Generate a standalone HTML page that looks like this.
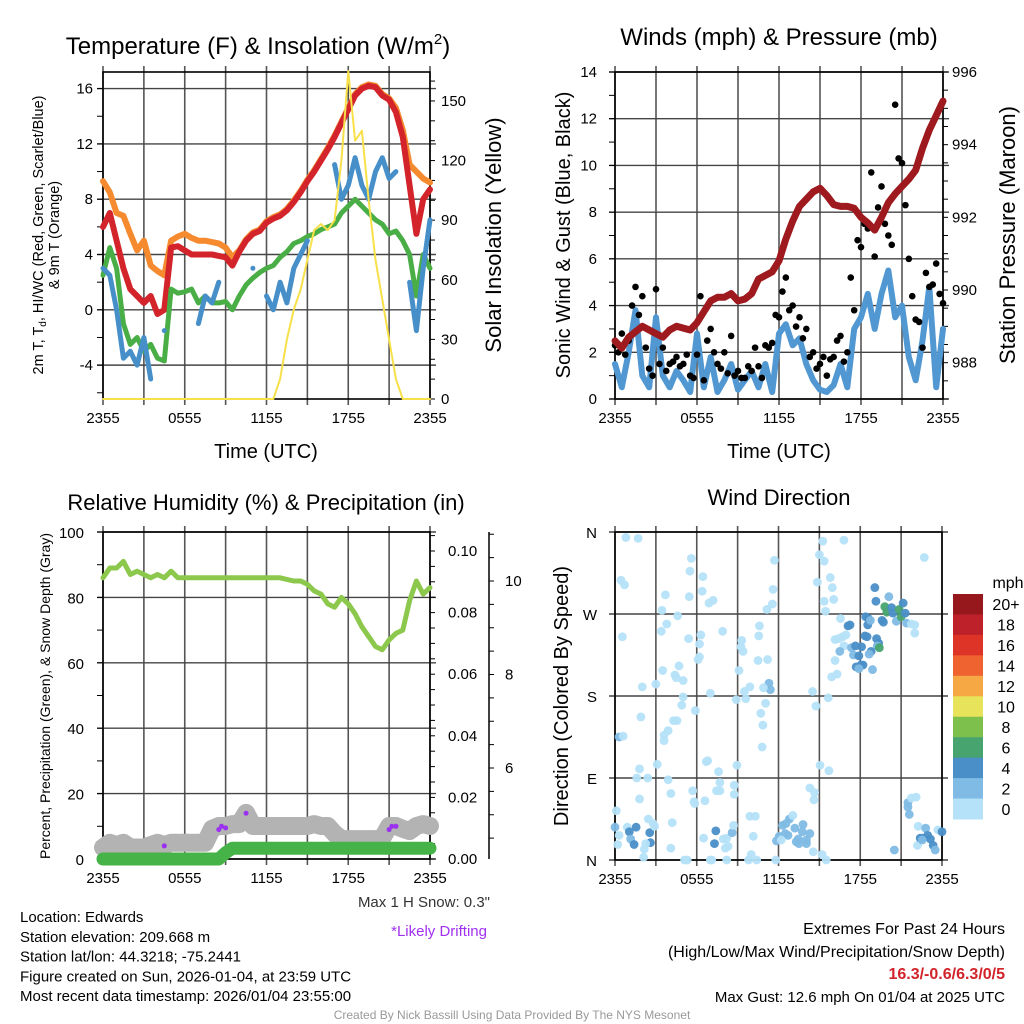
<!DOCTYPE html>
<html><head><meta charset="utf-8">
<style>
html,body{margin:0;padding:0;background:#fff;}
svg{display:block;font-family:"Liberation Sans",sans-serif;}
</style></head>
<body>
<svg id="chart" width="1024" height="1024" viewBox="0 0 1024 1024" xmlns="http://www.w3.org/2000/svg"></svg>
<script>
// ---------- data (30-minute samples, hours 0..24) ----------
const xTickLabels = ["2355","0555","1155","1755","2355"];
const temp2m = [6,7,5,3,1.5,1,0.5,1,-0.3,0,4.5,4.6,4.3,4,4,4,4,3.9,3.8,3.2,4.2,5,5.5,5.7,6.3,6.6,6.8,7.2,7.8,8.5,9.3,10,10.8,11.6,12.5,13.5,14.5,15.5,16,16.2,16.1,15.5,15.2,14.3,12.5,9,5.5,8,8.7];
const temp9m = [9.3,8.5,7,6.8,5.5,4.3,5,3.2,2.8,2.5,5,5.3,5.5,5.2,5,5,4.9,4.8,4.5,3.8,4.3,5.1,5.6,5.8,6.4,6.7,6.9,7.3,7.9,8.6,9.4,10.1,10.9,11.7,12.6,13.6,14.6,15.6,16.1,16.3,16.2,15.6,15.3,14.6,13,10.5,10,9.5,9.2];
const dewpt = [2.5,4.5,3,-1,-2.5,-2,-3,-2.5,-3.5,-3.7,1.5,1.2,1.3,1.5,0.5,1,0.5,0.5,0.6,0,1,1.8,2.3,2.7,3,3.2,3.8,4.2,4.8,5,5.3,5.5,5.8,6,6.2,7,7.5,8,7.5,7,6.5,6.2,5.5,5.7,5,4,1,4,3];
const windChill = [3,2.5,0,-3.5,-3,-4,-2,-5,null,-1.5,null,null,null,null,-1,1,0.5,2,null,null,null,null,3,null,1,0,2,0.5,3,4,5,null,null,null,10.5,8,9,11,9,8,10,11,9.5,10,null,2,-1.5,3,6.5];
const solar = [0,0,0,0,0,0,0,0,0,0,0,0,0,0,0,0,0,0,0,0,0,0,0,0,0,0,10,30,45,55,70,85,88,85,90,120,165,130,135,100,70,50,30,10,0,0,0,0,0];
const windSpd = [1.5,0.5,2,3.8,1,0.5,3.5,1,0.5,1.2,0.8,0.3,2.8,0.5,1.8,0.3,0.8,1.5,0.4,0.8,1.2,0.5,1.5,0.3,2.8,3.2,2.3,2.6,1.5,0.8,0.4,0.3,0.6,1.5,0.5,3,3.5,4.5,3,4.5,5.5,3.5,4,1.8,0.8,2.5,4.8,0.5,3];
const gustA = [2.3,2.8,2.5,4.8,4.4,1.3,4.7,2.2,1.5,1.8,1.5,1,1.9,0.8,3,1.5,2,2.7,1.2,0.9,1.2,1.4,2.3,2.4,3.5,5.2,4,3.5,3,2,1.5,1,1.8,2.7,2,3.8,6.5,7.3,6.1,9.1,7,12.6,10.1,6,3.4,2.2,4.8,5.8,4.1];
const gustB = [2,1.9,4,3.6,2.2,1,1.5,1.2,1.6,1.4,1.9,0.9,4.4,2.5,2,1.3,1.1,1.0,0.9,1.4,2.2,0.9,2.2,3.6,4.6,3.8,3.1,2.6,1.8,1.3,1.8,1.7,2.5,1.6,5.2,6.8,7.5,9.7,8.2,7.5,6.6,10.3,8.3,4.4,3.3,5.4,4.9,4.5];
const pressure = [988.6,988.4,988.7,988.85,989,988.9,988.8,988.7,988.9,989,988.95,988.9,989.1,989.4,989.7,989.8,989.8,989.9,989.7,989.75,989.9,990.3,990.4,990.5,990.8,991.4,991.9,992.3,992.5,992.7,992.8,992.6,992.35,992.3,992.3,992.25,992,991.85,991.65,992,992.4,992.65,992.85,993.05,993.3,993.9,994.4,994.8,995.2];
const rh = [86,89,89,91,87,88,87,86,87,86,88,86,86,86,86,86,86,86,86,86,86,86,86,86,86,86,86,85.5,85,85,84,82,81,78,77,80,78,75,71,68,65,64,67,69,70,79,85,81,83];
const snowDepth = [4.3,4.4,4.35,4.4,4.3,4.3,4.3,4.35,4.4,4.35,4.4,4.4,4.4,4.4,4.4,4.4,4.7,4.76,4.76,4.8,4.8,5.04,4.76,4.76,4.76,4.76,4.76,4.76,4.76,4.76,4.76,4.8,4.76,4.76,4.6,4.48,4.48,4.48,4.48,4.48,4.48,4.5,4.76,4.76,4.7,4.65,4.76,4.8,4.76];
const precip = [0,0,0,0,0,0,0,0,0,0,0,0,0,0,0,0,0,0,0.002,0.0035,0.0035,0.0035,0.0035,0.0035,0.0035,0.0035,0.0035,0.0035,0.0035,0.0035,0.0035,0.0035,0.0035,0.0035,0.0035,0.0035,0.0035,0.0035,0.0035,0.0035,0.0035,0.0035,0.0035,0.0035,0.0035,0.0035,0.0035,0.0035,0.0035];
const driftHours = [4.5,8.5,8.7,9,10.5,21,21.2,21.5];
const driftPct = [4,9,10,9.5,14,9,10,10];
const dirHours = [0.8,1.7,0.44,0.7,0.54,3.7,3.45,4.6,3.8,3.4,5.6,5.5,6.45,5.45,6.4,6.9,7.2,5.4,6.3,6.2,6.2,6.1,7.9,4.7,3.5,4.4,4.5,5.0,3.0,2.0,5.0,4.9,5.9,7.0,1.9,4.3,4.55,3.9,3.6,3.6,0.3,0.6,3.1,1.8,1.6,2.4,3.9,1.8,4.1,0.1,0,0.3,0.2,0.9,1.05,1.55,1.15,1.4,2.55,2.6,2.25,2.15,2.45,2.8,2.9,2.1,4.2,4.1,5.7,5.8,5.85,6.6,6.7,6.8,7.6,7.7,7.45,7.7,8.75,8.75,8.95,7.4,7.3,7.95,8.2,8.3,8.1,8.6,8.7,6.5,5.1,5.3,7.0,7.1,8.2,9.1,9.3,9.25,9.4,8.9,9.6,9.5,9.9,10.6,10.55,10.5,11.2,11.3,11.4,10.9,11.05,10.7,10.85,10.8,11.7,11.6,11.55,11.15,9.9,10.3,10.15,9.8,10.0,10.4,11.8,12.8,13.05,12.3,12.5,12.7,12.05,11.85,12.2,12.55,13.2,13.45,13.8,13.75,13.3,13.5,14.05,14.3,14.05,14.3,14.65,14.6,14.55,15.2,15.5,15.25,15.0,15.35,14.85,15.35,15.45,16.05,15.8,15.95,14.5,14.75,15.65,15.05,15.7,16.8,16.55,16.15,16.4,16.7,16.95,16.8,17.1,17.25,16.5,16.15,15.9,16.3,17.35,17.65,18.1,17.5,17.9,17.7,18.05,18.2,17.9,18.9,18.35,18.5,18.4,18.6,18.55,18.75,19.07,19.15,19.2,19.35,19.25,18.8,18.65,19.4,19.8,19.95,19.6,19.7,20.1,20.3,20.4,20.65,20.85,21.0,21.15,21.3,21.4,21.75,22.0,22.0,22.7,21.5,21.5,21.6,21.75,22.1,22.25,22.2,22.4,22.8,22.95,23.15,23.35,22.6,23.5,23.7,24.0,20.5,22.55];
const dirDegs = [354,353,307,302,245,291,274,268,259,251,331,317,311,289,295,282,285,243,247,237,223,220,251,213,208,203,200,197,193,190,179,170,164,183,157,153,153,142,137,131,135,136,105,100,90,90,88,67,73,54,36,27,17,36,31,36,23,17,30,19,18,12,45,40,37,3,41,13,76,64,62,65,108,109,97,85,76,76,82,72,104,32,18,23,24,15,13,30,38,24,0,0,0,0,0,208,241,234,229,176,177,185,190,257,246,219,220,194,187,189,172,161,148,124,329,297,281,275,48,48,26,0,6,0,0,45,49,38,29,27,26,21,22,40,35,23,39,31,20,18,22,29,18,79,74,66,9,6,0,350,335,328,305,284,273,286,310,299,185,169,178,104,98,351,265,242,243,245,247,235,257,258,229,219,201,204,233,235,234,225,224,212,214,214,210,209,246,245,267,265,258,263,299,284,243,238,235,229,226,233,278,272,263,261,289,277,271,262,275,267,282,271,260,259,258,249,332,63,58,50,68,69,37,16,24,35,27,23,16,24,11,33,31,11,22];
const dirSpeeds = [1,1,1,1,1,1,1,1,1,1,1,1,1,1,1,1,1,1,1,1,1,1,1,1,1,1,1,1,1,1,1,1,1,1,1,1,1,1,1,1,3,1,1,1,1,1,1,1,1,1,3,1,1,1,5,5,3,5,5,5,1,1,1,1,1,1,1,1,1,1,1,1,1,1,1,1,1,1,1,1,1,5,5,1,1,1,1,3,1,1,1,1,1,1,1,1,1,1,1,1,1,1,1,1,1,1,1,3,3,1,1,1,1,1,1,1,1,1,1,1,1,1,1,1,1,3,1,3,3,3,3,3,1,3,3,3,3,3,3,3,3,3,3,1,1,1,1,1,1,1,1,1,1,1,1,1,1,1,1,1,1,1,1,1,1,1,1,1,1,1,5,5,3,1,1,1,3,5,5,3,5,5,5,5,3,3,5,5,5,5,5,3,5,5,5,5,3,5,3,7,7,7,5,5,3,5,5,3,7,7,5,5,3,1,1,1,1,3,3,3,1,1,1,1,5,3,5,5,5,5,3,1,5,3,3];
const cbLabels = ["20+","18","16","14","12","10","8","6","4","2","0"];
const cbColors = ["#b5e2f8","#7fbbe4","#4a8fc7","#48a46f","#7dc04b","#e7e35b","#f5a843","#ef6330","#de3427","#bf212b","#96171c"];

// ---------- helpers ----------
const NS = "http://www.w3.org/2000/svg";
const svg = document.getElementById("chart");
function el(tag, attrs, parent) {
  const e = document.createElementNS(NS, tag);
  for (const k in attrs) e.setAttribute(k, attrs[k]);
  (parent || svg).appendChild(e);
  return e;
}
function text(str, x, y, size, anchor, parent, extra) {
  const t = el("text", Object.assign({x: x, y: y, "font-size": size, "text-anchor": anchor || "middle", fill: "#000"}, extra || {}), parent);
  t.textContent = str;
  return t;
}
function hours(i) { return i * 0.5; }
function linePath(vals, xf, yf) {
  let d = "", pen = false;
  vals.forEach((v, i) => {
    if (v === null) { pen = false; return; }
    const x = xf(hours(i)), y = yf(v);
    if (!pen) { d += "M" + x.toFixed(1) + " " + y.toFixed(1) + " l0 0 "; pen = true; }
    else d += "L" + x.toFixed(1) + " " + y.toFixed(1) + " ";
  });
  return d;
}
function stepPath(vals, xf, yf) {
  let d = "";
  vals.forEach((v, i) => {
    const x = xf(hours(i)), y = yf(v);
    d += (i === 0 ? "M" : "L") + x.toFixed(1) + " " + y.toFixed(1) + " ";
  });
  return d;
}
function makeX(x0, x1) { return h => x0 + h / 24 * (x1 - x0); }

function frame(g, x0, x1, y0, y1, xf, hGrid) {
  for (let h = 0; h <= 24; h += 3) {
    const l = el("line", {x1: xf(h), x2: xf(h), y1: y0 - 6, y2: y1 + 6, stroke: "#555", "stroke-width": 1.6}, g);
    
    
  }
  hGrid.forEach(y => {
    const l = el("line", {x1: x0 - 6, x2: x1 + 6, y1: y, y2: y, stroke: "#444", "stroke-width": 1.4}, g);
    
    
  });
  const r = el("rect", {x: x0, y: y0, width: x1 - x0, height: y1 - y0, fill: "none", stroke: "#000", "stroke-width": 1.6}, g);
  
  
  xTickLabels.forEach((lab, i) => {
    const t = text(lab, xf(i * 6), y1 + 24, 15, "middle", g);
    
    
  });
}
function ticks(g, x, side, vals, yf, len) {
  vals.forEach(v => {
    const y = yf(v);
    const l = el("line", {x1: x, x2: x + side * len, y1: y, y2: y, stroke: "#000", "stroke-width": 1}, g);
    
    
  });
}
function range(a, b, s) { const r = []; for (let v = a; v <= b + 1e-9; v += s) r.push(+v.toFixed(4)); return r; }

// ================= Panel 1: Temperature =================
const g1 = el("g", {});


const X1 = makeX(103, 430);
const yT = v => 399 - (v + 6.45) / 23.65 * 327;
const ySol = v => 399 - v * 1.987;
frame(g1, 103, 430, 72, 399, X1, [-4, 0, 4, 8, 12, 16].map(yT));
ticks(g1, 103, -1, range(-6, 16, 2), yT, 6);
ticks(g1, 430, 1, range(0, 160, 10), ySol, 5);
[-4, 0, 4, 8, 12, 16].forEach(v => {
  const t = text(String(v), 93, yT(v) + 5, 15, "end", g1);
  
  
});
[0, 30, 60, 90, 120, 150].forEach(v => {
  const t = text(String(v), 441, ySol(v) + 5, 15, "start", g1);
  
  
});
const series1 = [
  [temp9m, "#f58a2f", 6, yT, "temp-9m-line"],
  [temp2m, "#d3232b", 6, yT, "temp-2m-line"],
  [dewpt, "#4aae46", 5, yT, "dewpoint-line"],
  [windChill, "#468fc9", 5, yT, "windchill-line"],
  [solar, "#f7e04a", 2, ySol, "solar-line"]
];
series1.forEach(s => {
  const p = el("path", {d: linePath(s[0], X1, s[3]), fill: "none", stroke: s[1], "stroke-width": s[2], "stroke-linejoin": "round", "stroke-linecap": "round"}, g1);
  
  
});
let t1 = text("Temperature (F) & Insolation (W/m", 258, 54, 24, "middle", g1);


const sup = el("tspan", {"font-size": 15, dy: -10}, t1); sup.textContent = "2";
const sup2 = el("tspan", {dy: 10}, t1); sup2.textContent = ")";
let ta = text("Time (UTC)", 266, 458, 20, "middle", g1);


const ylab1 = el("text", {x: 0, y: 0, "font-size": 14.5, "text-anchor": "middle", transform: "translate(43,235) rotate(-90)"}, g1);


const l1a = el("tspan", {x: 0, dy: 0}, ylab1); l1a.textContent = "2m T, T";
const l1b = el("tspan", {"font-size": 10, dy: 3}, ylab1); l1b.textContent = "d";
const l1c = el("tspan", {dy: -3}, ylab1); l1c.textContent = ", HI/WC (Red, Green, Scarlet/Blue)";
const l1d = el("tspan", {x: 0, dy: 16}, ylab1); l1d.textContent = "& 9m T (Orange)";
const yr1 = text("Solar Insolation (Yellow)", 0, 0, 22, "middle", g1, {transform: "translate(501,235) rotate(-90)"});



// ================= Panel 2: Winds =================
const g2 = el("g", {});


const X2 = makeX(615, 943);
const yW = v => 399 - v * 327 / 14;
const yP = v => 399 - (v - 987) / 9 * 327;
frame(g2, 615, 943, 72, 399, X2, range(0, 14, 2).map(yW));
ticks(g2, 615, -1, range(0, 14, 1), yW, 6);
ticks(g2, 943, 1, range(987, 996, 0.5), yP, 5);
range(0, 14, 2).forEach(v => {
  const t = text(String(v), 597, yW(v) + 5, 15, "end", g2);
  
  
});
[988, 990, 992, 994, 996].forEach(v => {
  const t = text(String(v), 952, yP(v) + 5, 15, "start", g2);
  
  
});
const pw = el("path", {d: linePath(windSpd, X2, yW), fill: "none", stroke: "#5198d3", "stroke-width": 6, "stroke-linejoin": "round", "stroke-linecap": "round"}, g2);


gustA.forEach((v, i) => {
  const c = el("circle", {cx: X2(hours(i)), cy: yW(v), r: 3.3, fill: "#000"}, g2);
  
  
});
gustB.forEach((v, i) => {
  const c = el("circle", {cx: X2(hours(i) + 0.25), cy: yW(v), r: 3.3, fill: "#000"}, g2);
  
  
});
const pp = el("path", {d: linePath(pressure, X2, yP), fill: "none", stroke: "#9e1a1e", "stroke-width": 7, "stroke-linejoin": "round", "stroke-linecap": "round"}, g2);


let t2 = text("Winds (mph) & Pressure (mb)", 779, 45, 24, "middle", g2);


let ta2 = text("Time (UTC)", 779, 458, 20, "middle", g2);


const yl2 = text("Sonic Wind & Gust (Blue, Black)", 0, 0, 20, "middle", g2, {transform: "translate(570,235) rotate(-90)"});


const yr2 = text("Station Pressure (Maroon)", 0, 0, 22, "middle", g2, {transform: "translate(1015,235) rotate(-90)"});



// ================= Panel 3: RH & Precip =================
const g3 = el("g", {});


const X3 = makeX(103, 430);
const yRH = v => 859 - v * 3.27;
const yPr = v => 859 - v * 3080;
const ySn = v => 768 - (v - 6) * 46.75;
frame(g3, 103, 430, 532, 859, X3, range(0, 100, 20).map(yRH));
ticks(g3, 103, -1, range(0, 100, 10), yRH, 6);
ticks(g3, 430, 1, range(0, 0.105, 0.005), yPr, 5);
range(0, 100, 20).forEach(v => {
  const t = text(String(v), 84, yRH(v) + 6, 15, "end", g3);
  
  
});
[0, 0.02, 0.04, 0.06, 0.08, 0.10].forEach(v => {
  const t = text(v.toFixed(2), 448, yPr(v) + 5, 15, "start", g3);
  
  
});
const sAx = el("line", {x1: 489, x2: 489, y1: 532, y2: 859, stroke: "#000", "stroke-width": 1.5}, g3);


ticks(g3, 489, 1, range(4.5, 11, 0.5), ySn, 5);
[6, 8, 10].forEach(v => {
  const t = text(String(v), 505, ySn(v) + 5, 15, "start", g3);
  
  
});
const ps = el("path", {d: linePath(snowDepth, X3, ySn), fill: "none", stroke: "#b3b3b3", "stroke-width": 18, "stroke-linejoin": "round", "stroke-linecap": "round"}, g3);


const ppr = el("path", {d: stepPath(precip, X3, yPr), fill: "none", stroke: "#45b347", "stroke-width": 13, "stroke-linejoin": "round", "stroke-linecap": "round"}, g3);


driftHours.forEach((h, i) => {
  const c = el("circle", {cx: X3(h), cy: yRH(driftPct[i]), r: 2.5, fill: "#9b30f0"}, g3);
  
  
});
const prh = el("path", {d: linePath(rh, X3, yRH), fill: "none", stroke: "#8cc84c", "stroke-width": 5, "stroke-linejoin": "round", "stroke-linecap": "round"}, g3);


let t3 = text("Relative Humidity (%) & Precipitation (in)", 266, 510, 22, "middle", g3);


const yl3 = text("Percent, Precipitation (Green), & Snow Depth (Gray)", 0, 0, 14, "middle", g3, {transform: "translate(50,696) rotate(-90)"});



// ================= Panel 4: Wind Direction =================
const g4 = el("g", {});


const X4 = makeX(615, 942);
const yD = v => 860 - v * 328 / 360;
frame(g4, 615, 942, 532, 860, X4, [0, 90, 180, 270, 360].map(yD));
["N", "E", "S", "W", "N"].forEach((lab, i) => {
  const t = text(lab, 597, yD(i * 90) + 6, 15, "end", g4);
  
  
});
dirHours.forEach((h, i) => {
  const idx = Math.min(10, Math.floor(dirSpeeds[i] / 2));
  const c = el("circle", {cx: X4(h), cy: yD(dirDegs[i]), r: 4.4, fill: cbColors[idx], "fill-opacity": 0.95}, g4);
  
  
});
let t4 = text("Wind Direction", 779, 505, 22, "middle", g4);


const yl4 = text("Direction (Colored By Speed)", 0, 0, 20, "middle", g4, {transform: "translate(568,696) rotate(-90)"});


// colorbar
const cb = el("g", {}, g4);


const cbH = 225 / 11;
cbLabels.forEach((lab, i) => {
  const r = el("rect", {x: 953, y: 594 + i * cbH, width: 30, height: cbH + 0.5, fill: cbColors[10 - i]}, cb);
  
  
  const t = text(lab, 1006, 594 + i * cbH + cbH / 2 + 6, 16, "middle", cb);
  
  
});
const mph = text("mph", 1008, 588, 16, "middle", cb);



// ================= Footer text =================
const gf = el("g", {});


const leftLines = ["Location: Edwards", "Station elevation: 209.668 m", "Station lat/lon: 44.3218; -75.2441", "Figure created on Sun, 2026-01-04, at 23:59 UTC", "Most recent data timestamp: 2026/01/04 23:55:00"];
leftLines.forEach((s, i) => {
  const t = text(s, 20, 922 + i * 19.8, 15, "start", gf);
  
  
});
const sn = text('Max 1 H Snow: 0.3"', 490, 907, 15, "end", gf, {fill: "#333"});


const dr = text("*Likely Drifting", 487, 936, 15, "end", gf, {fill: "#a030f0"});


const e1 = text("Extremes For Past 24 Hours", 1005, 934, 16, "end", gf);


const e2 = text("(High/Low/Max Wind/Precipitation/Snow Depth)", 1005, 957, 16, "end", gf);


const e3 = text("16.3/-0.6/6.3/0/5", 1005, 979, 16, "end", gf, {fill: "#d2232a", "font-weight": "bold"});


const e4 = text("Max Gust: 12.6 mph On 01/04 at 2025 UTC", 1005, 1002, 15, "end", gf);


const cr = text("Created By Nick Bassill Using Data Provided By The NYS Mesonet", 512, 1019, 12, "middle", gf, {fill: "#999"});


</script>
</body></html>
